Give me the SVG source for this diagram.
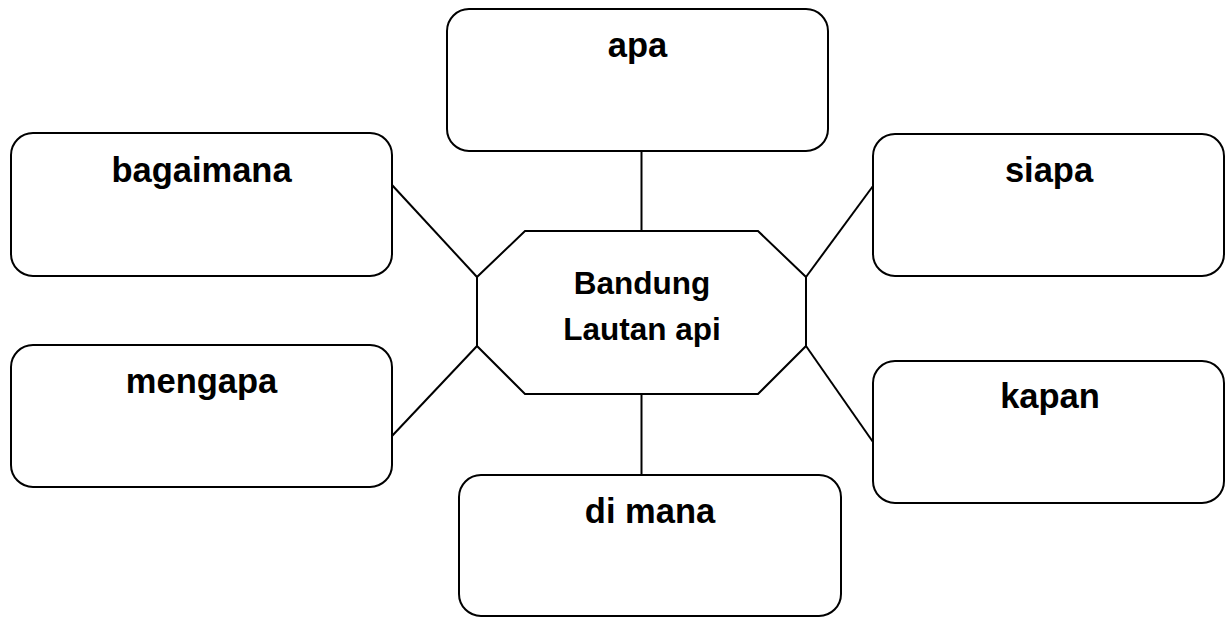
<svg xmlns="http://www.w3.org/2000/svg" width="1225" height="617" viewBox="0 0 1225 617">
<style>
.box{fill:#fff;stroke:#000;stroke-width:2}
.lbl{font-family:"Liberation Sans",Arial,sans-serif;font-weight:bold;font-size:34.5px;fill:#000;text-anchor:middle}
.ctr{font-family:"Liberation Sans",Arial,sans-serif;font-weight:bold;font-size:31.5px;fill:#000;text-anchor:middle}
.conn{stroke:#000;stroke-width:2;fill:none}
</style>
<rect width="1225" height="617" fill="#fff"/>
<g id="connectors">
<line class="conn" x1="641.5" y1="151" x2="641.5" y2="231"/>
<line class="conn" x1="641.5" y1="394" x2="641.5" y2="475"/>
<line class="conn" x1="392" y1="185" x2="477" y2="277"/>
<line class="conn" x1="392" y1="436" x2="477" y2="346"/>
<line class="conn" x1="873" y1="186" x2="806" y2="277"/>
<line class="conn" x1="873" y1="442" x2="806" y2="346"/>
</g>
<g id="node-center">
<polygon class="box" points="525,231 758,231 806,277 806,346 758,394 525,394 477,346 477,277"/>
<text class="ctr" x="642" y="294">Bandung</text>
<text class="ctr" x="642" y="340">Lautan api</text>
</g>
<g id="node-apa">
<rect class="box" x="447" y="9" width="381" height="142" rx="22"/>
<text class="lbl" x="637.5" y="57">apa</text>
</g>
<g id="node-bagaimana">
<rect class="box" x="11" y="133" width="381" height="143" rx="22"/>
<text class="lbl" x="201.5" y="182">bagaimana</text>
</g>
<g id="node-siapa">
<rect class="box" x="873" y="134" width="351" height="142" rx="22"/>
<text class="lbl" x="1049" y="182">siapa</text>
</g>
<g id="node-mengapa">
<rect class="box" x="11" y="345" width="381" height="142" rx="22"/>
<text class="lbl" x="201.5" y="393">mengapa</text>
</g>
<g id="node-kapan">
<rect class="box" x="873" y="361" width="351" height="142" rx="22"/>
<text class="lbl" x="1050" y="408">kapan</text>
</g>
<g id="node-dimana">
<rect class="box" x="459" y="475" width="382" height="141" rx="22"/>
<text class="lbl" x="650" y="523">di mana</text>
</g>
</svg>
